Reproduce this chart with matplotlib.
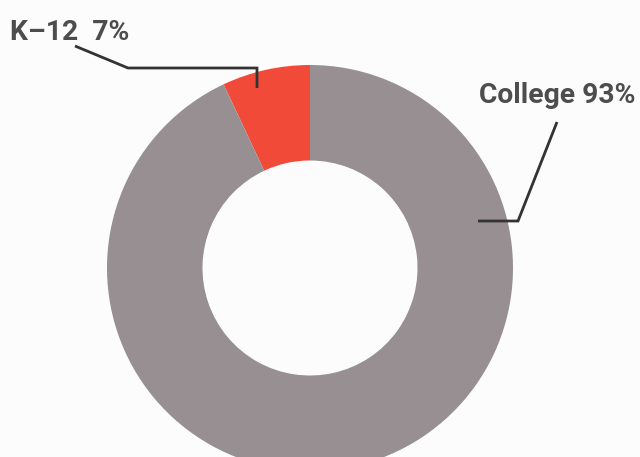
import matplotlib.pyplot as plt

# data
labels = ['K–12  7%', 'College 93%']
values = [7, 93]
colors = ['#f24a39', '#978f91']

W, H = 640, 457
cx, cy = 310, H - 268
r_out = 203
r_in = 107.5

fig = plt.figure(figsize=(W / 100, H / 100), dpi=100, facecolor='#fcfcfc')
ax = fig.add_axes([0, 0, 1, 1])
ax.set_facecolor('#fcfcfc')

ax.pie(values, colors=colors, startangle=90, counterclock=True,
       center=(cx, cy), radius=r_out,
       wedgeprops=dict(width=r_out - r_in, linewidth=0))

ax.set_xlim(0, W)
ax.set_ylim(0, H)
ax.set_aspect('equal')
ax.set_axis_off()

# leader lines (pixel positions, y from top)
lc = '#333333'
k12_line = [(75, 46), (128, 68), (257, 68), (257, 88)]
col_line = [(557, 122), (518, 221), (478, 221)]
for pts in [k12_line, col_line]:
    xs = [p[0] for p in pts]
    ys = [H - p[1] for p in pts]
    ax.plot(xs, ys, color=lc, lw=2, solid_capstyle='butt', solid_joinstyle='miter')

tc = '#4d4d4d'
ax.text(10, H - 40, labels[0], fontsize=20.3, fontweight='bold', color=tc,
        family='Roboto', va='baseline', ha='left')
ax.text(479, H - 103, labels[1], fontsize=20.3, fontweight='bold', color=tc,
        family='Roboto', va='baseline', ha='left')

fig.savefig('out.png', dpi=100, facecolor=fig.get_facecolor())
